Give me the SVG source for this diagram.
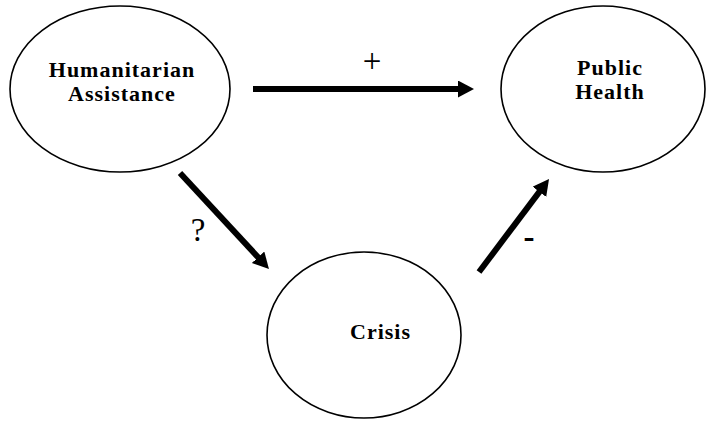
<svg xmlns="http://www.w3.org/2000/svg" width="706" height="421" viewBox="0 0 706 421">
<style>
.node{fill:#fff;stroke:#000;stroke-width:1.6}
.lbl{font-family:"Liberation Serif","Times New Roman",serif;font-size:22px;font-weight:bold;text-anchor:middle;fill:#000;letter-spacing:1px}
.sign{font-family:"Liberation Serif","Times New Roman",serif;font-size:33px;text-anchor:middle;fill:#000}
.edge{stroke:#000;stroke-width:6;fill:none;marker-end:url(#ah)}
</style>
<defs>
<marker id="ah" markerUnits="userSpaceOnUse" markerWidth="18" markerHeight="18" refX="4" refY="8.5" orient="auto">
<path d="M0,0 L16,8.5 L0,17 z" fill="#000"/>
</marker>
</defs>
<rect width="706" height="421" fill="#fff"/>
<g id="n-humanitarian">
<ellipse class="node" cx="120" cy="89" rx="110" ry="83"/>
<text class="lbl" x="122" y="77">Humanitarian</text>
<text class="lbl" x="122" y="101">Assistance</text>
</g>
<g id="n-public-health">
<ellipse class="node" cx="603" cy="89" rx="102" ry="83"/>
<text class="lbl" x="610" y="75">Public</text>
<text class="lbl" x="610" y="99">Health</text>
</g>
<g id="n-crisis">
<ellipse class="node" cx="364" cy="335" rx="97" ry="83"/>
<text class="lbl" x="380.5" y="339">Crisis</text>
</g>
<g id="connectors">
<line class="edge" x1="253" y1="89" x2="462" y2="89"/>
<line class="edge" x1="180" y1="173" x2="260.8" y2="260.2"/>
<line class="edge" x1="479" y1="272" x2="541.8" y2="188.6"/>
<text class="sign" x="372" y="72">+</text>
<text class="sign" x="198" y="241">?</text>
<text class="sign" x="529" y="248" style="font-weight:bold">-</text>
</g>
</svg>
